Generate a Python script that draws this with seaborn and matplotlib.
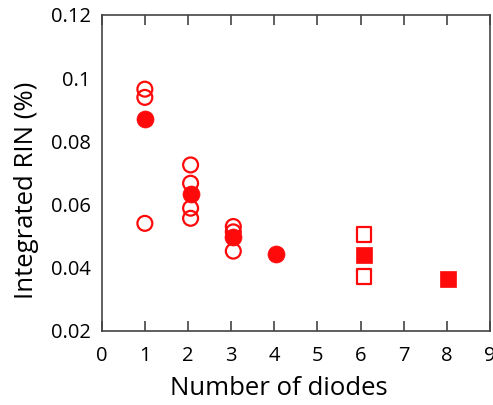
import matplotlib
matplotlib.use("Agg")
import matplotlib.pyplot as plt
import seaborn as sns
import pandas as pd

sns.set_theme(style="white")
plt.rcParams['font.family'] = ['Open Sans', 'DejaVu Sans']

# open circles
open_circle_x = [1, 1, 1, 2.06, 2.06, 2.06, 2.06, 3.05, 3.05, 3.05]
open_circle_y = [0.0965, 0.0939, 0.0540, 0.0725, 0.0667, 0.0588, 0.0556, 0.0530, 0.0513, 0.0452]
# filled circles
filled_circle_x = [1, 2.06, 3.05, 4.03]
filled_circle_y = [0.0870, 0.0632, 0.0496, 0.0443]
# open squares
open_square_x = [6.08, 6.08]
open_square_y = [0.0505, 0.0371]
# filled squares
filled_square_x = [6.08, 8.02]
filled_square_y = [0.0441, 0.0364]

xticks = [0, 1, 2, 3, 4, 5, 6, 7, 8, 9]
yticks = [0.02, 0.04, 0.06, 0.08, 0.1, 0.12]
ytick_labels = ["0.02", "0.04", "0.06", "0.08", "0.1", "0.12"]

red = "#ff0a0a"
fig = plt.figure(figsize=(4.93, 4.05), dpi=100)
ax = fig.add_axes([0.2063, 0.1835, 0.7877, 0.7795])

sns.scatterplot(x=open_circle_x, y=open_circle_y, ax=ax, marker='o', s=115,
                facecolor='none', edgecolor=red, linewidth=1.6, zorder=3)
sns.scatterplot(x=filled_circle_x, y=filled_circle_y, ax=ax, marker='o', s=150,
                color=red, edgecolor=red, linewidth=0.5, zorder=4)
sns.scatterplot(x=open_square_x, y=open_square_y, ax=ax, marker='s', s=115,
                facecolor='none', edgecolor=red, linewidth=1.6, zorder=3)
sns.scatterplot(x=filled_square_x, y=filled_square_y, ax=ax, marker='s', s=140,
                color=red, edgecolor=red, linewidth=0.5, zorder=4)

ax.set_xlim(0, 9)
ax.set_ylim(0.02, 0.12)
ax.set_xticks(xticks)
ax.set_xticklabels([str(t) for t in xticks])
ax.set_yticks(yticks)
ax.set_yticklabels(ytick_labels)

for sp in ax.spines.values():
    sp.set_color('#444444')
    sp.set_linewidth(1.2)
    sp.set_visible(True)

ax.tick_params(axis='x', direction='in', length=7, width=1.2, color='#444444',
               top=True, bottom=True, pad=11, labelsize=14.5, labelcolor='black')
ax.tick_params(axis='y', length=0, pad=8, labelsize=14.5, labelcolor='black')

ax.set_xlabel("Number of diodes", fontsize=18.5, labelpad=7, color='black')
ax.set_ylabel("Integrated RIN (%)", fontsize=18.5, labelpad=8.5, color='black')
ax.xaxis.label.set_x(0.455)
ax.yaxis.label.set_y(0.446)
ax.grid(False)

fig.savefig("out.png", dpi=100)
